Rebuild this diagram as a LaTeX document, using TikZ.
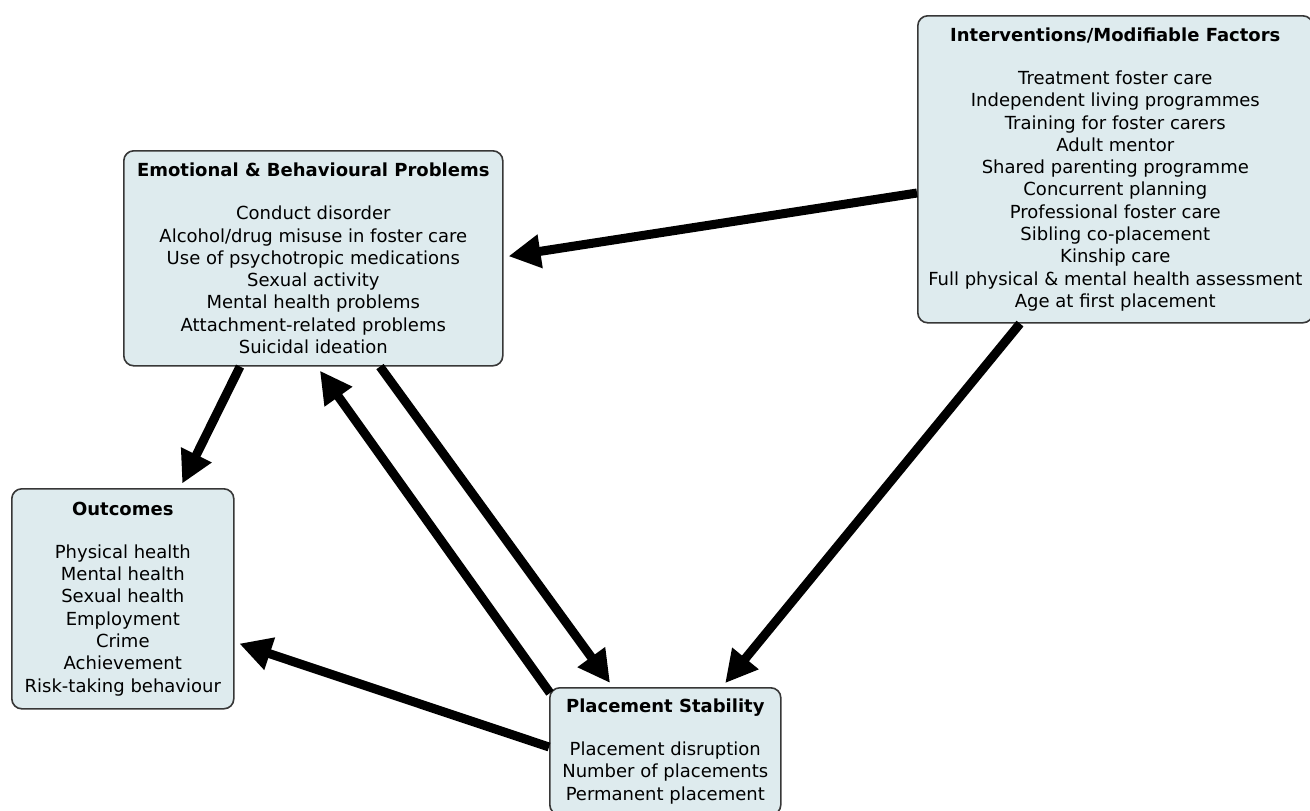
\documentclass[tikz,border=0pt]{standalone}
\usepackage{fontspec}
\setmainfont{DejaVu Sans}
\usetikzlibrary{arrows.meta,calc}
\definecolor{boxfill}{RGB}{222,235,238}
\definecolor{boxline}{RGB}{55,55,55}
\begin{document}
\begin{tikzpicture}[x=1pt,y=-1pt,
  box/.style={draw=boxline,line width=1.6pt,fill=boxfill,rounded corners=10pt,anchor=north west,align=center,inner sep=0pt,font=\fontsize{18}{22.3}\selectfont},
  link/.style={line width=9pt,-{Triangle[length=32pt,width=32pt]},shorten >=5pt}]
\useasboundingbox (0,0) rectangle (1310,811);
\fill[white] (0,0) rectangle (1310,811);

\node[box,minimum width=395pt,minimum height=307pt] (inter) at (917,15)
 {\textbf{Interventions/Modifiable Factors}\\[21pt]
  Treatment foster care\\
  Independent living programmes\\
  Training for foster carers\\
  Adult mentor\\
  Shared parenting programme\\
  Concurrent planning\\
  Professional foster care\\
  Sibling co-placement\\
  Kinship care\\
  Full physical \& mental health assessment\\
  Age at first placement};

\node[box,minimum width=379pt,minimum height=215pt] (emo) at (123,150)
 {\textbf{Emotional \& Behavioural Problems}\\[21pt]
  Conduct disorder\\
  Alcohol/drug misuse in foster care\\
  Use of psychotropic medications\\
  Sexual activity\\
  Mental health problems\\
  Attachment-related problems\\
  Suicidal ideation};

\node[box,minimum width=222pt,minimum height=220pt] (outc) at (11,488)
 {\textbf{Outcomes}\\[21pt]
  Physical health\\
  Mental health\\
  Sexual health\\
  Employment\\
  Crime\\
  Achievement\\
  Risk-taking behaviour};

\node[box,minimum width=231pt,minimum height=127pt] (place) at (549,687)
 {\textbf{Placement Stability}\\[21pt]
  Placement disruption\\
  Number of placements\\
  Permanent placement};

% connectors
\draw[link] ($(inter.north west)+(0,178)$) -- ($(emo.north east)+(0,107)$);
\draw[link] ($(emo.south west)+(117,0)$) -- ($(outc.north west)+(169,0)$);
\draw[link] ($(emo.south west)+(257,0)$) -- ($(place.north west)+(64,0)$);
\draw[link] ($(place.north west)+(1,6)$) -- ($(emo.south west)+(194,0)$);
\draw[link] ($(inter.south west)+(103,0)$) -- ($(place.north west)+(173,0)$);
\draw[link] ($(place.north west)+(0,60)$) -- ($(outc.north east)+(0,154)$);
\end{tikzpicture}
\end{document}
